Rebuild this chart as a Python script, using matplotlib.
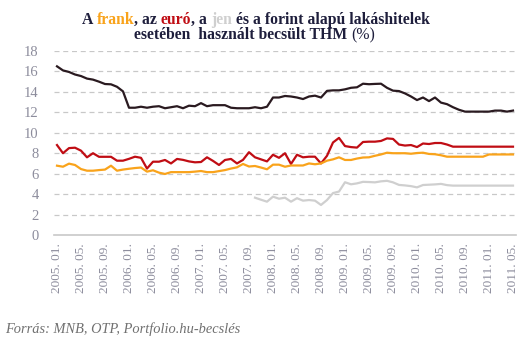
import matplotlib
matplotlib.use("Agg")
import matplotlib.pyplot as plt
import numpy as np

# monthly series, 2005.01 - 2011.05
months = [f"{y}. {m:02d}." for y in range(2005, 2012) for m in range(1, 13)][:77]

forint = [16.5, 16.1, 15.95, 15.7, 15.55, 15.3, 15.2, 15.0, 14.77, 14.74,
          14.5, 14.05, 12.45, 12.45, 12.55, 12.45, 12.55, 12.6, 12.4, 12.5,
          12.6, 12.4, 12.65, 12.6, 12.9, 12.6, 12.7, 12.7, 12.7, 12.45,
          12.4, 12.4, 12.4, 12.5, 12.4, 12.55, 13.45, 13.45, 13.6, 13.55,
          13.45, 13.3, 13.55, 13.63, 13.45, 14.1, 14.15, 14.15, 14.25, 14.4,
          14.45, 14.8, 14.75, 14.78, 14.8, 14.4, 14.12, 14.08, 13.85, 13.55,
          13.2, 13.45, 13.1, 13.45, 12.95, 12.8, 12.5, 12.25, 12.07, 12.07,
          12.07, 12.07, 12.07, 12.17, 12.17, 12.07, 12.17]

euro = [8.8, 8.0, 8.5, 8.54, 8.25, 7.6, 8.0, 7.65, 7.65, 7.65,
        7.27, 7.27, 7.45, 7.66, 7.55, 6.5, 7.17, 7.17, 7.34, 7.0,
        7.44, 7.35, 7.2, 7.11, 7.14, 7.6, 7.25, 6.85, 7.34, 7.44,
        7.0, 7.35, 8.1, 7.6, 7.4, 7.2, 7.85, 7.55, 8.0, 6.95,
        7.85, 7.6, 7.66, 7.66, 7.0, 7.75, 9.05, 9.5, 8.7, 8.6,
        8.55, 9.1, 9.13, 9.13, 9.2, 9.45, 9.4, 8.85, 8.75, 8.8,
        8.6, 8.95, 8.9, 9.0, 9.0, 8.85, 8.64, 8.64, 8.64, 8.64,
        8.64, 8.64, 8.64, 8.64, 8.64, 8.64, 8.64]

frank = [6.78, 6.68, 6.98, 6.85, 6.45, 6.29, 6.29, 6.35, 6.4, 6.78,
         6.29, 6.4, 6.48, 6.55, 6.6, 6.2, 6.33, 6.1, 5.97, 6.15,
         6.15, 6.15, 6.15, 6.2, 6.26, 6.15, 6.15, 6.25, 6.35, 6.5,
         6.62, 6.95, 6.7, 6.75, 6.6, 6.43, 6.88, 6.88, 6.68, 6.8,
         6.8, 6.8, 7.0, 6.92, 7.0, 7.27, 7.4, 7.6, 7.34, 7.34,
         7.48, 7.58, 7.6, 7.75, 7.88, 8.05, 8.0, 8.0, 8.0, 7.95,
         8.02, 8.05, 7.93, 7.9, 7.8, 7.66, 7.66, 7.66, 7.66, 7.66,
         7.66, 7.66, 7.88, 7.88, 7.88, 7.88, 7.88]

# yen series only starts in 2007.10
jen_start = 33
jen = [3.65, 3.45, 3.26, 3.75, 3.55, 3.65, 3.26, 3.6, 3.36, 3.42,
       3.36, 2.94, 3.42, 4.1, 4.25, 5.16, 4.96, 5.05, 5.2, 5.18,
       5.15, 5.25, 5.3, 5.15, 4.9, 4.85, 4.78, 4.66, 4.89, 4.92,
       4.95, 5.0, 4.88, 4.83, 4.83, 4.83, 4.83, 4.83, 4.83, 4.83,
       4.83, 4.83, 4.83, 4.83]

c_dark = "#2a1a20"
c_red = "#c00d14"
c_orange = "#f9a31b"
c_grey = "#cfcfcf"
c_title = "#1e1e3c"
c_tick = "#8c8c9c"

plt.rcParams["font.family"] = "Liberation Serif"

fig = plt.figure(figsize=(5.31, 3.42), dpi=100)
ax = fig.add_axes([54 / 531, 1 - 235 / 342, 462 / 531, 184 / 342])

x = np.arange(len(months))
ax.plot(x, forint, color=c_dark, lw=1.6, zorder=3)
ax.plot(x, euro, color=c_red, lw=1.6, zorder=3)
ax.plot(x, frank, color=c_orange, lw=1.6, zorder=3)
ax.plot(np.arange(jen_start, jen_start + len(jen)), jen, color=c_grey, lw=1.6, zorder=3)

ax.set_ylim(0, 18)
ax.set_xlim(-0.5, len(months) - 0.5)
ax.set_yticks(range(0, 19, 2))
ax.set_xticks(x[::4])
ax.set_xticklabels(months[::4], rotation=90, fontsize=9.5, color=c_tick)
ax.tick_params(axis="y", labelsize=10.5, labelcolor=c_tick, length=0, pad=11)
ax.tick_params(axis="x", length=0, pad=6)

for v in range(2, 19, 2):
    ax.axhline(v, color="#c8c8c8", lw=0.9, dashes=(4, 3), zorder=1)
for s in ["top", "right", "left"]:
    ax.spines[s].set_visible(False)
ax.spines["bottom"].set_color("#c8c8c8")
ax.spines["bottom"].set_linewidth(1.2)


def colored_line(pieces, y, size=11.3):
    # lay out differently coloured words side by side, centred on the figure
    renderer = fig.canvas.get_renderer()
    full = "".join(p[0] for p in pieces)
    probe = fig.text(0, y, full, fontsize=size, fontweight="bold")
    w = probe.get_window_extent(renderer).width / fig.bbox.width
    probe.remove()
    done = []
    for txt, col, wt in pieces:
        if not done:
            t = fig.text(0.482 - w / 2, y, txt, color=col, fontsize=size,
                         fontweight=wt, va="center")
        else:
            t = fig.text(0, 0, txt, color=col, fontsize=size, fontweight=wt,
                         va="center", transform=None)
            bb = done[-1].get_window_extent(renderer)
            t.set_position((bb.x1, bb.y0 + bb.height / 2))
        done.append(t)


colored_line([("A ", c_title, "bold"), ("frank", c_orange, "bold"),
              (", az ", c_title, "bold"), ("euró", c_red, "bold"),
              (", a ", c_title, "bold"), ("jen", c_grey, "bold"),
              (" és a forint alapú lakáshitelek", c_title, "bold")],
             1 - 20 / 342)
colored_line([("esetében  használt becsült THM ", c_title, "bold"),
              ("(%)", c_title, "normal")], 1 - 35 / 342)

fig.text(5 / 531, 1 - 329 / 342, "Forrás: MNB, OTP, Portfolio.hu-becslés",
         fontsize=10.4, style="italic", color="#707070", va="center")

fig.savefig("out.png", dpi=100)
